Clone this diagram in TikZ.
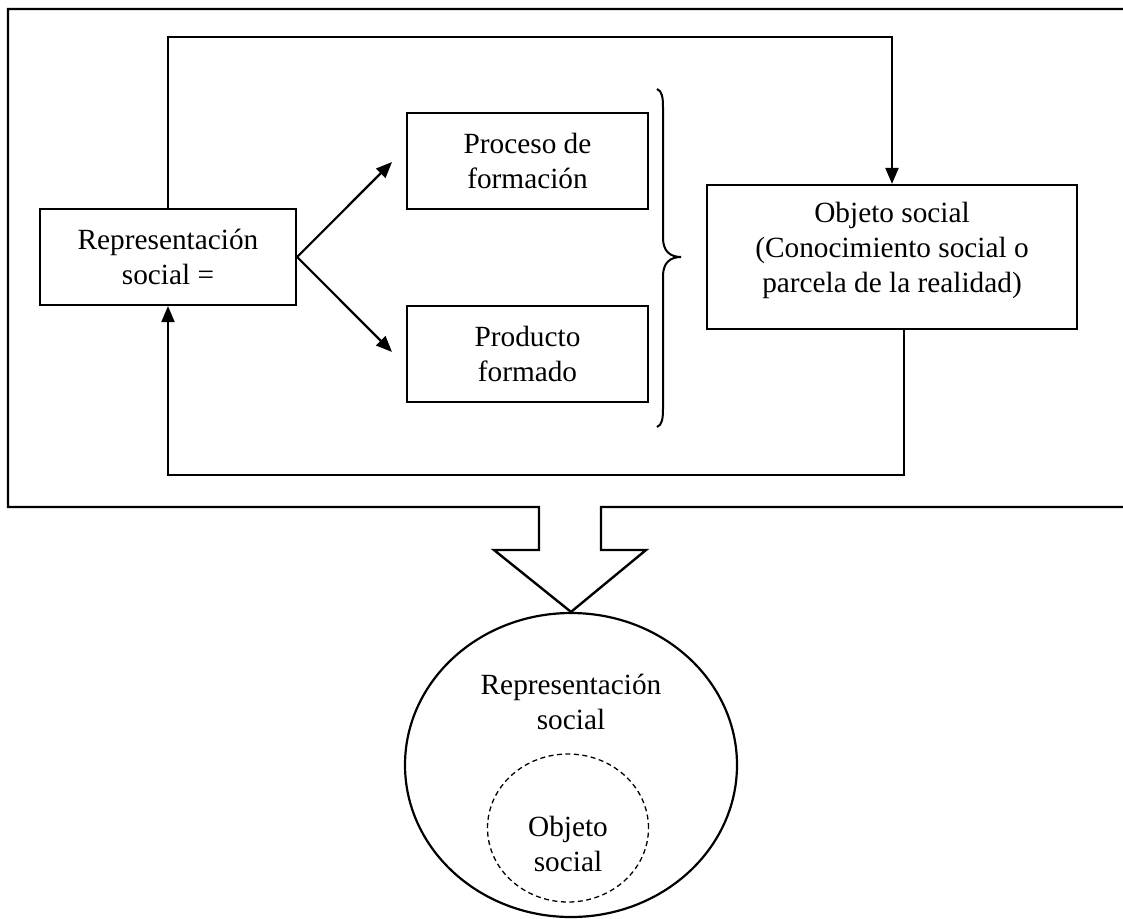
\documentclass[tikz,border=0pt]{standalone}
\usepackage{fontspec}
\setmainfont{Liberation Serif}
\usetikzlibrary{arrows.meta,shapes.geometric}
\tikzset{
  box/.style={draw, line width=2.2pt, inner sep=0pt, align=center, font=\fontsize{29.3}{35}\selectfont},
  txt/.style={inner sep=0pt, align=center, font=\fontsize{29.3}{35}\selectfont},
  arr/.style={line width=2.2pt, -{Triangle[length=16pt,width=13pt]}},
}
\begin{document}
\begin{tikzpicture}[x=1pt,y=-1pt]
\useasboundingbox (0,0) rectangle (1123,918);
% boxes
\node[box, minimum width=256pt, minimum height=96pt] (rep) at (168,257) {Representación\\social =};
\node[box, minimum width=241pt, minimum height=96pt] (proc) at (527.5,161) {Proceso de\\formación};
\node[box, minimum width=241pt, minimum height=96pt] (prod) at (527.5,354) {Producto\\formado};
\node[box, minimum width=370pt, minimum height=144pt] (obj) at (892,257) {};
\node[txt] (objtxt) at (892,250) {Objeto social\\(Conocimiento social o\\parcela de la realidad)};
% big ellipse and inner dashed ellipse
\node[draw, ellipse, line width=2.2pt, minimum width=332pt, minimum height=304pt, inner sep=0pt] (big) at (571,765) {};
\node[draw, ellipse, dash pattern=on 5pt off 3.5pt, line width=1.3pt, minimum width=161pt, minimum height=148pt, inner sep=0pt] (small) at (568,828) {};
\node[txt] (bigtxt) at (571,702) {Representación\\social};
\node[txt] (smalltxt) at (568,844) {Objeto\\social};
% outer frame with hollow arrow
\coordinate (tip) at (big.north);
\draw[line width=2.4pt, line join=miter]
  (1135,9) -- (8,9) -- (8,507) -- (539,507) -- (539,550) -- (494,550) -- (tip)
  -- (646,550) -- (601,550) -- (601,507) -- (1135,507);
% arrows from representation
\coordinate (a1) at (392,162);
\coordinate (a2) at (392,352);
\draw[arr] (rep.east) -- (a1);
\draw[arr] (rep.east) -- (a2);
% loops
\draw[arr] (rep.north) -- (rep.north |- 0,37) -| (obj.north);
\draw[arr] ([xshift=12pt]obj.south) -- ++(0,145) -| (rep.south);
% brace
\coordinate (br) at (681,257);
\draw[line width=2pt] (657,89) .. controls (662,91) and (663,97) .. (663,108)
  -- (663,238) .. controls (663,251) and (670,257) .. (br)
  .. controls (670,257) and (663,263) .. (663,276)
  -- (663,408) .. controls (663,419) and (662,425) .. (657,427);
\end{tikzpicture}
\end{document}
